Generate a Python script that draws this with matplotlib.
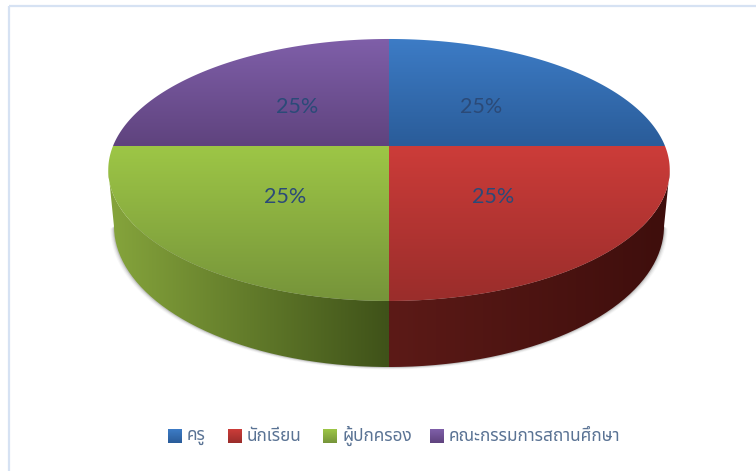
import numpy as np
import matplotlib
matplotlib.use("Agg")
import matplotlib.pyplot as plt
from matplotlib.colors import LinearSegmentedColormap
from matplotlib.patches import PathPatch, Polygon, Rectangle
from matplotlib.path import Path

labels = ["ครู", "นักเรียน", "ผู้ปกครอง", "คณะกรรมการสถานศึกษา"]
values = [25, 25, 25, 25]

top_colors = [("#3d7cc6", "#2a5c99"), ("#cc3c39", "#9a2d2b"), ("#9dc646", "#76943a"), ("#7f5fa9", "#5f437e")]
side_colors = [("#2a5d9a", "#1f4674"), ("#5c1a17", "#3e0e0c"), ("#86a53c", "#3f5219"), ("#5d4480", "#46305f")]
text_color = "#2b4a78"
legend_text = "#5a7394"
frame_color = "#d6e2f3"

fig_w, fig_h = 756, 471
cx, cy = 389, 146
a_top, b_top = 276, 126.6
a_bot, b_bot = 270.4, 136.3
y_bot = 200.2
k = 0.183  # perspective

thai_fonts = ["Noto Sans Thai", "Noto Sans", "DejaVu Sans", "Liberation Sans"]


def project(th, r=1.0, a=a_top, b=b_top, y0=cy):
    # th is clockwise from the top of the pie
    u = r * np.sin(th)
    v = r * np.cos(th)
    w = 1 + k * v
    return cx + a * u / w, y0 - b * v / w


def gradient(ax, path, c0, c1, horizontal=False):
    xs, ys = path.vertices[:, 0], path.vertices[:, 1]
    cmap = LinearSegmentedColormap.from_list("g", [c0, c1])
    ramp = np.linspace(0, 1, 256)
    ramp = ramp.reshape(1, -1) if horizontal else ramp.reshape(-1, 1)
    im = ax.imshow(ramp, cmap=cmap, extent=(xs.min(), xs.max(), ys.max(), ys.min()),
                   aspect="auto", interpolation="bilinear", zorder=3)
    im.set_clip_path(PathPatch(path, transform=ax.transData))


fig = plt.figure(figsize=(fig_w / 100, fig_h / 100), dpi=100)
ax = fig.add_axes([0, 0, 1, 1])
ax.axis("off")

# frame
ax.add_patch(Rectangle((9, 6), 800, 600, fill=False, ec=frame_color, lw=1.6, zorder=1))

angles = 2 * np.pi * np.cumsum([0] + values) / sum(values)
vis_a = np.pi / 2 + np.arcsin(k)
vis_b = 3 * np.pi / 2 - np.arcsin(k)

# soft shadow under the pie
t = np.linspace(vis_a, vis_b, 100)
for grow, alpha in zip([3.5, 2.5, 1.5, 0.8], [0.05, 0.09, 0.13, 0.18]):
    x, y = project(t, a=a_bot + grow, b=b_bot, y0=y_bot + grow * 0.7)
    ax.add_patch(Polygon(np.column_stack([x, y]), closed=True, fc="#606060", ec="none", alpha=alpha, zorder=2))

# side wall
for i in range(len(values)):
    lo = max(angles[i], vis_a)
    hi = min(angles[i + 1], vis_b)
    if hi <= lo:
        continue
    t = np.linspace(lo, hi, 80)
    x1, y1 = project(t)
    x2, y2 = project(t[::-1], a=a_bot, b=b_bot, y0=y_bot)
    path = Path(np.column_stack([np.r_[x1, x2], np.r_[y1, y2]]))
    gradient(ax, path, side_colors[i][0], side_colors[i][1], horizontal=True)

# top face
for i in range(len(values)):
    t = np.linspace(angles[i], angles[i + 1], 120)
    x, y = project(t)
    path = Path(np.column_stack([np.r_[cx, x, cx], np.r_[cy, y, cy]]))
    gradient(ax, path, top_colors[i][0], top_colors[i][1])

# value labels
for i, v in enumerate(values):
    mid = (angles[i] + angles[i + 1]) / 2
    x, y = project(mid, r=0.5)
    ax.text(x, y + 3, "%d%%" % round(100 * v / sum(values)), ha="center", va="center",
            family="Lato", fontsize=15.5, color=text_color, zorder=5)

# legend
swatch_x = [168, 228, 323, 430]
for i, lab in enumerate(labels):
    s = swatch_x[i]
    path = Path([(s, 429), (s + 14, 429), (s + 14, 443), (s, 443), (s, 429)])
    gradient(ax, path, top_colors[i][0], top_colors[i][1])
    ax.text(s + 19, 436, lab, ha="left", va="center", family=thai_fonts, fontsize=12.4,
            color=legend_text, zorder=5)

ax.set_xlim(0, fig_w)
ax.set_ylim(fig_h, 0)
fig.savefig("out.png", dpi=100, facecolor="white")
